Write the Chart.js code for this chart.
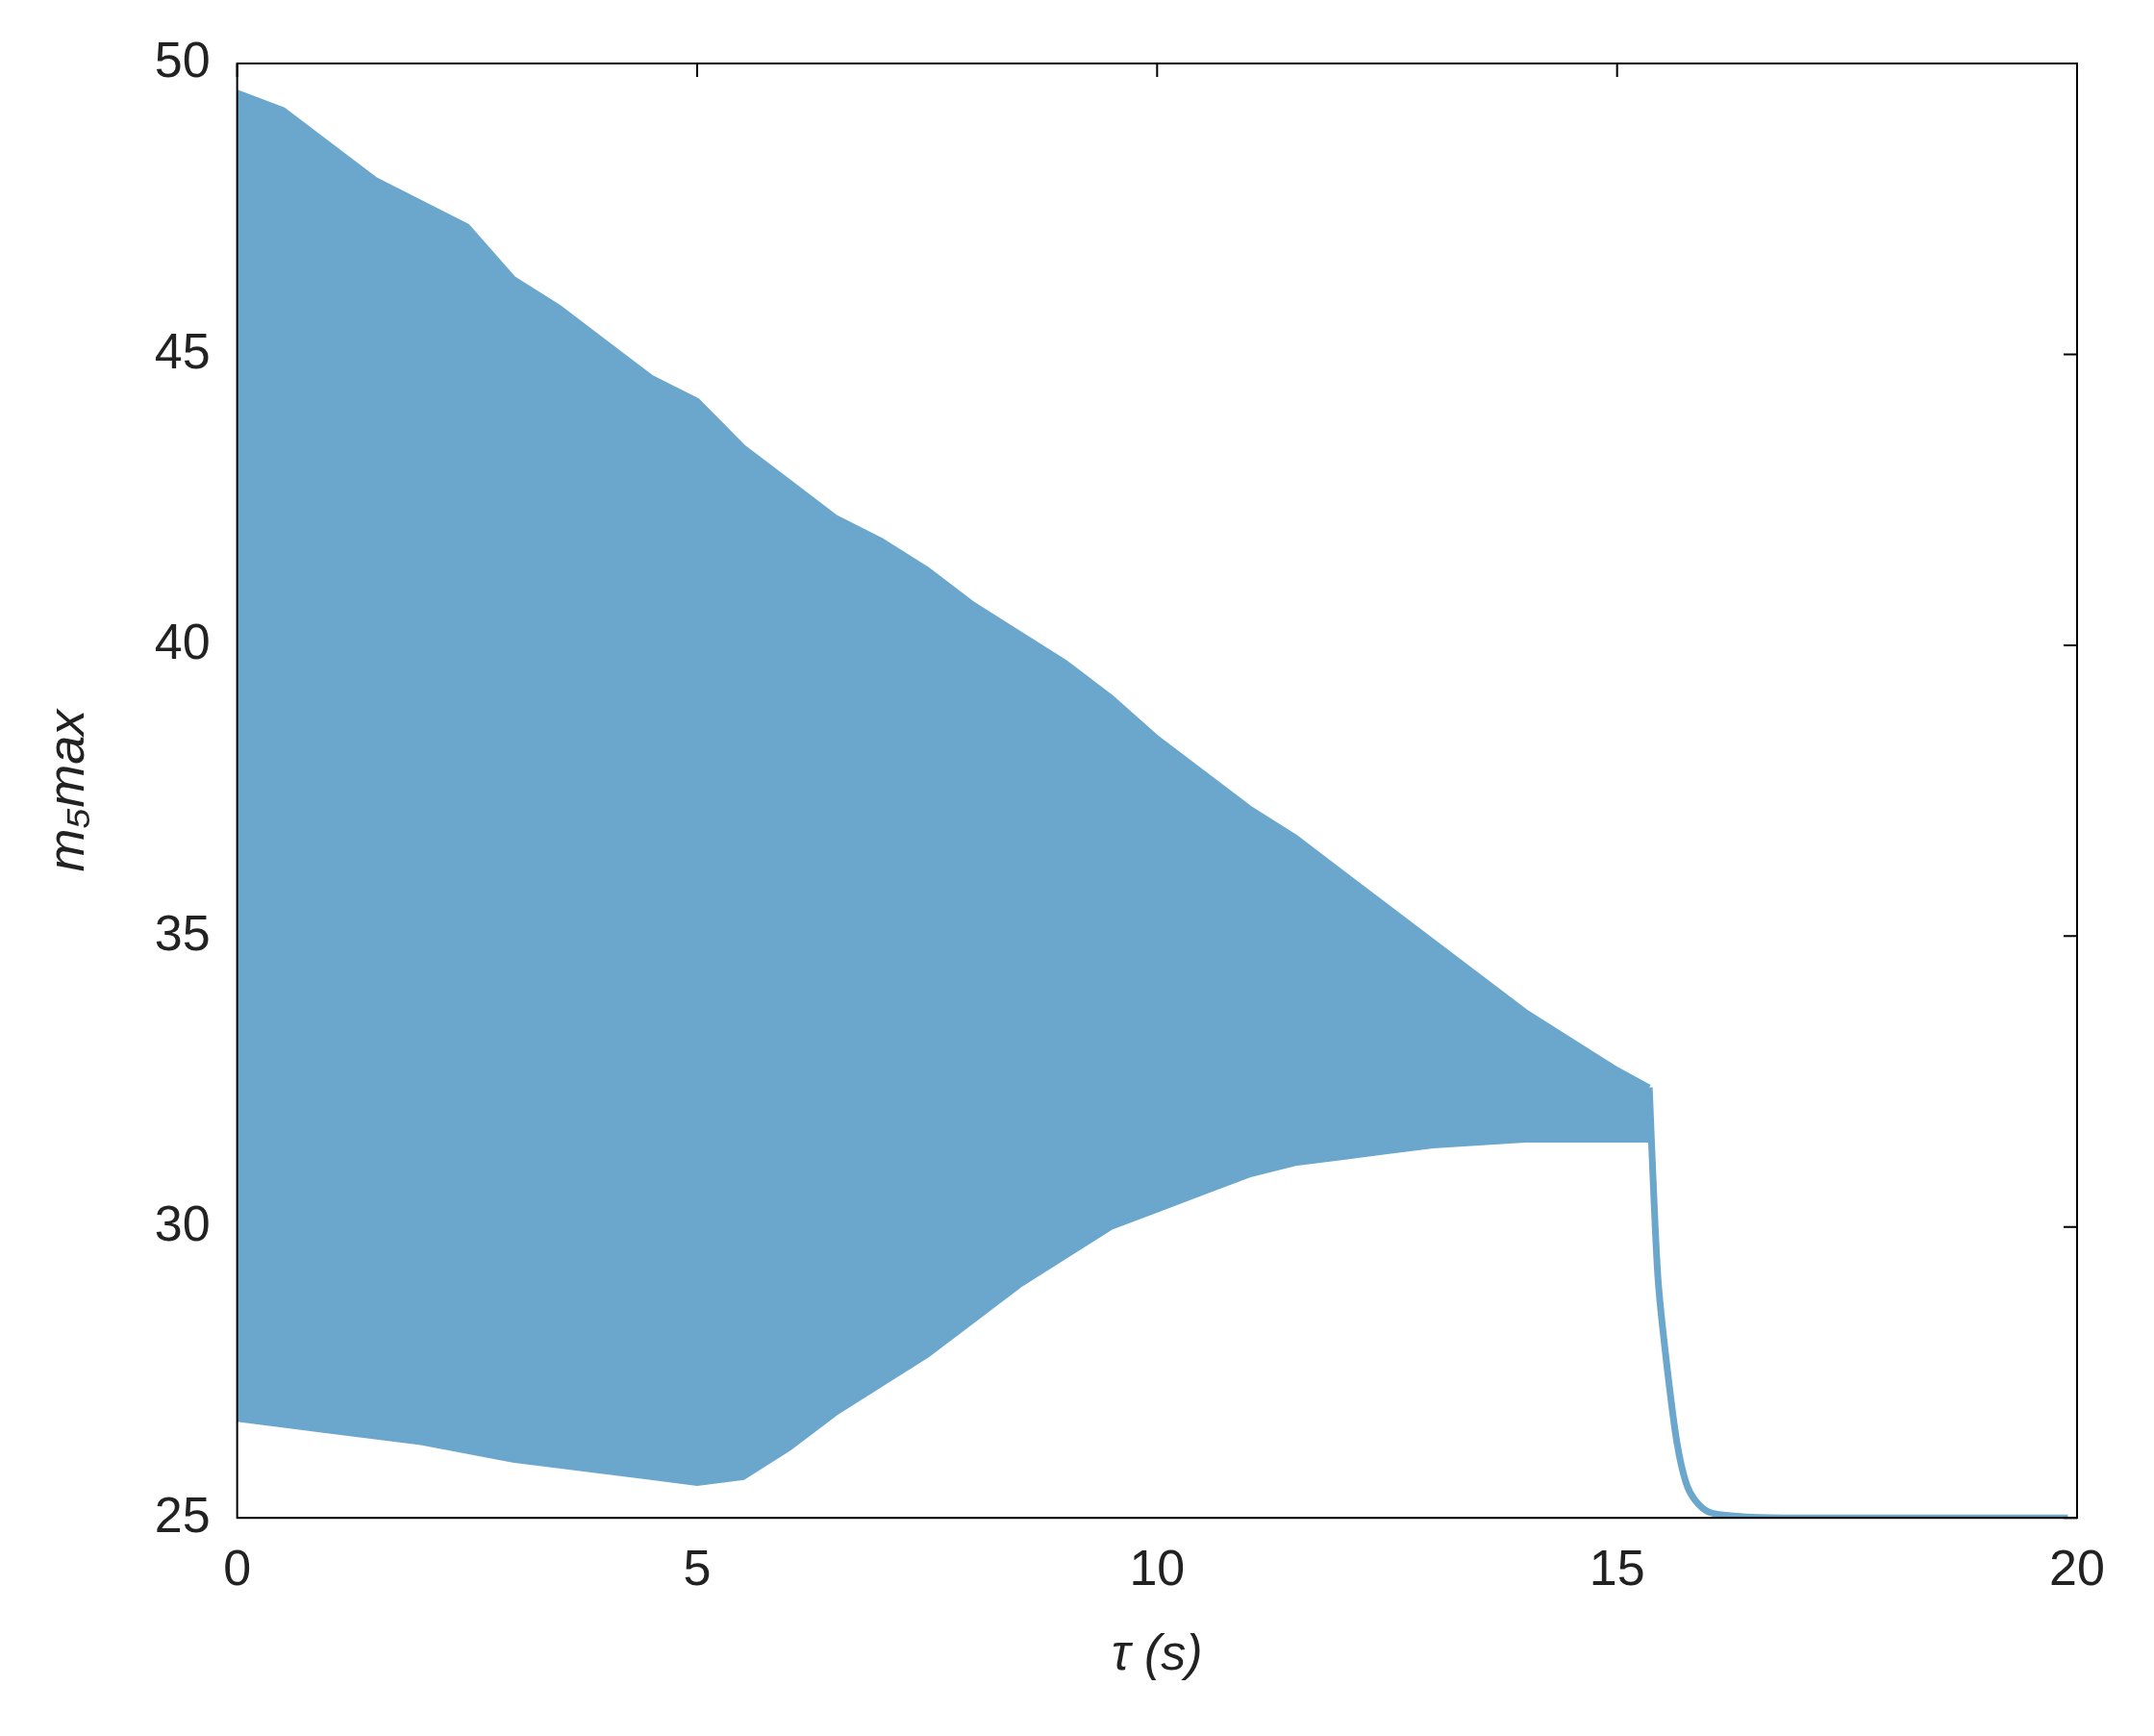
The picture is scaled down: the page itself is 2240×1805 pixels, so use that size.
<!DOCTYPE html>
<html><head><meta charset="utf-8">
<script src="https://cdn.jsdelivr.net/npm/chart.js@4"></script>
<style>html,body{margin:0;background:#fff}#w{width:2240px;height:1805px}</style>
</head><body><div id="w"><canvas id="c"></canvas></div>
<script>
const upperX=[0,0.5,1,1.5,2,2.5,3,3.5,4,4.5,5,5.5,6,6.5,7,7.5,8,8.5,9,9.5,10,10.5,11,11.5,12,12.5,13,13.5,14,14.5,15,15.35];
const upperY=[49.5,49.2,48.6,48,47.6,47.2,46.3,45.8,45.2,44.6,44.2,43.4,42.8,42.2,41.8,41.3,40.7,40.2,39.7,39.1,38.4,37.8,37.2,36.7,36.1,35.5,34.9,34.3,33.7,33.2,32.7,32.4];
const lowerX=[0,1,2,3,4,4.5,5,5.5,6,6.5,7,7.5,8,8.5,9,9.5,10,10.5,11,11.5,12,12.5,13,14,15,15.35];
const lowerY=[26.7,26.5,26.3,26.0,25.8,25.7,25.6,25.7,26.2,26.8,27.3,27.8,28.4,29,29.5,30,30.3,30.6,30.9,31.1,31.2,31.3,31.4,31.5,31.5,31.5];
const tailX=[15.35,15.4,15.45,15.55,15.65,15.75,15.85,16,16.3,16.8,18,19.9];
const tailY=[32.4,30.5,29,27.5,26.3,25.6,25.3,25.1,25.03,25,25,25];
const xTicks=[0,5,10,15,20], yTicks=[25,30,35,40,45,50];
const col='rgb(107,166,204)';
const pts=(xs,ys)=>xs.map((x,i)=>({x,y:ys[i]}));
const frame={id:'frame',afterDraw(ch){const {ctx,chartArea:a,scales:s}=ch;ctx.save();ctx.strokeStyle='#000';ctx.lineWidth=2;ctx.strokeRect(a.left,a.top,a.right-a.left,a.bottom-a.top);
ctx.beginPath();yTicks.forEach(v=>{const y=s.y.getPixelForValue(v);ctx.moveTo(a.right,y);ctx.lineTo(a.right-14,y);});
xTicks.forEach(v=>{const x=s.x.getPixelForValue(v);ctx.moveTo(x,a.top);ctx.lineTo(x,a.top+14);});ctx.stroke();ctx.restore();}};
new Chart(document.getElementById('c'),{type:'scatter',
data:{datasets:[
{data:pts(upperX,upperY),showLine:true,borderColor:col,backgroundColor:col,borderWidth:6,pointRadius:0,fill:'+1',tension:0},
{data:pts(lowerX,lowerY),showLine:true,borderColor:col,borderWidth:6,pointRadius:0,fill:false,tension:0},
{data:pts(tailX,tailY),showLine:true,borderColor:col,borderWidth:7,pointRadius:0,fill:false,tension:0.3}]},
options:{responsive:true,maintainAspectRatio:false,animation:false,
layout:{padding:{top:66,right:80,left:36,bottom:48}},
plugins:{legend:{display:false},tooltip:{enabled:false}},
scales:{
x:{type:'linear',min:0,max:20,afterBuildTicks:sc=>{sc.ticks=xTicks.map(v=>({value:v}));},
grid:{display:false,tickLength:12,tickColor:'#000'},border:{display:false},
ticks:{color:'#222',font:{family:'Liberation Sans',size:52},padding:12},
title:{display:true,text:'τ (s)',color:'#222',font:{family:'Liberation Sans',size:52,style:'italic'},padding:{top:14}}},
y:{type:'linear',min:25,max:50,afterBuildTicks:sc=>{sc.ticks=yTicks.map(v=>({value:v}));},
grid:{display:false,tickLength:12,tickColor:'#000'},border:{display:false},
ticks:{color:'#222',font:{family:'Liberation Sans',size:52},padding:16},
title:{display:true,text:'m₅max',color:'#222',font:{family:'Liberation Sans',size:54,style:'italic'},padding:{bottom:40}}}}},
plugins:[frame]});
</script></body></html>
